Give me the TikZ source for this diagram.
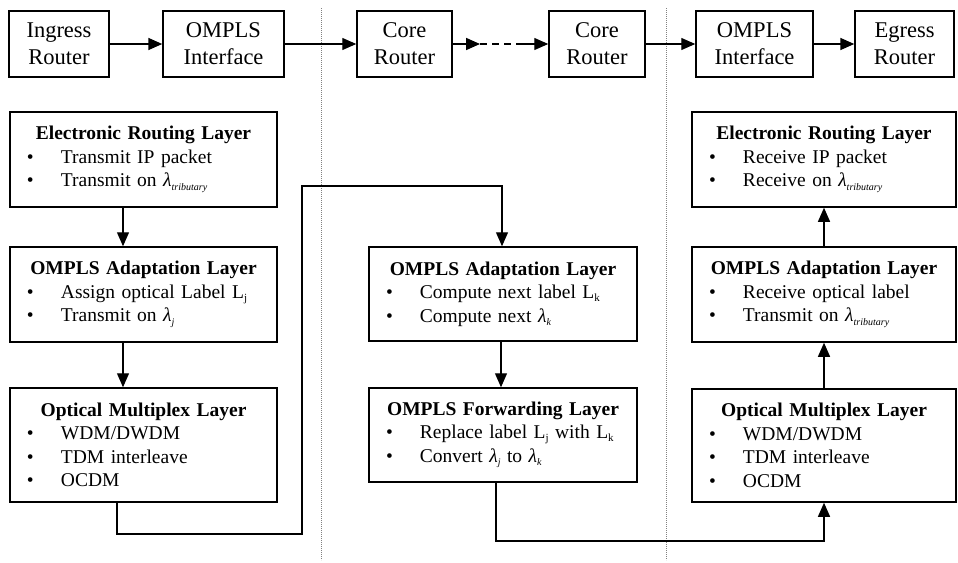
\documentclass[tikz,border=0pt]{standalone}
\usepackage{fontspec}
\setmainfont{Liberation Serif}
\usetikzlibrary{arrows.meta,calc}
\newcommand{\lsub}[1]{\raisebox{-3.5pt}{\fontsize{10}{10}\selectfont\itshape #1}}
\newcommand{\lam}[1]{{\itshape λ}\lsub{#1}}
\newcommand{\Lsub}[1]{L\raisebox{-3pt}{\fontsize{11}{11}\selectfont #1}}
\newcommand{\bitem}[1]{\makebox[\linewidth][l]{\hspace*{17pt}\makebox[34pt][l]{\textbullet}#1}}
\tikzset{
  topbox/.style={draw, line width=1.5pt, minimum height=66pt, inner sep=0pt, align=center,
    font=\fontsize{22.5}{27}\selectfont},
  layer/.style={draw, line width=1.5pt, inner xsep=0pt, inner ysep=0pt, align=center,
    font=\fontsize{19.5}{23.5}\selectfont},
  tip/.style={-{Triangle[length=14pt,width=12pt]}},
  thickarr/.style={tip, line width=1.7pt},
  thinarr/.style={tip, line width=1.2pt},
  conn/.style={line width=1.2pt},
  sep/.style={gray, line width=0.7pt, dash pattern=on 0.9pt off 1.1pt},
}
\begin{document}
\begin{tikzpicture}[x=1pt,y=-1pt]
\useasboundingbox (0,0) rectangle (958,562);
% separators
\draw[sep] (321,8) -- (321,560);
\draw[sep] (666,8) -- (666,560);
% top row
\node[topbox, minimum width=100pt] (ing) at (59,44) {Ingress\\Router};
\node[topbox, minimum width=121pt] (oif1) at (223.5,44) {OMPLS\\Interface};
\node[topbox, minimum width=95pt] (core1) at (404.5,44) {Core\\Router};
\node[topbox, minimum width=96pt] (core2) at (597,44) {Core\\Router};
\node[topbox, minimum width=117pt] (oif2) at (754.5,44) {OMPLS\\Interface};
\node[topbox, minimum width=99pt] (egr) at (904.5,44) {Egress\\Router};
\coordinate (d1) at (480,44);
\coordinate (d2) at (518,44);
\draw[thickarr] (ing) -- (oif1);
\draw[thinarr] (oif1) -- (core1);
\draw[thickarr] (core1.east) -- (d1);
\draw[line width=1.2pt, dash pattern=on 7pt off 5pt] (d1) -- (d2);
\draw[thinarr] (d2) -- (core2.west);
\draw[thinarr] (core2) -- (oif2);
\draw[thickarr] (oif2) -- (egr);
% left column
\node[layer, text width=267pt, minimum height=95pt] (lerl) at (143.5,159.5) {%
  \textbf{Electronic Routing Layer}\\
  \bitem{Transmit IP packet}\\
  \bitem{Transmit on \lam{tributary}}\\[4pt]};
\node[layer, text width=267pt, minimum height=95pt] (loal) at (143.5,294.5) {%
  \textbf{OMPLS Adaptation Layer}\\
  \bitem{Assign optical Label \Lsub{j}}\\
  \bitem{Transmit on \lam{j}}\\[4pt]};
\node[layer, text width=267pt, minimum height=114pt] (loml) at (143.5,445) {%
  \textbf{Optical Multiplex Layer}\\
  \bitem{WDM/DWDM}\\
  \bitem{TDM interleave}\\
  \bitem{OCDM}};
% center column
\node[layer, text width=268pt, minimum height=94pt] (coal) at (503,294) {%
  \textbf{OMPLS Adaptation Layer}\\
  \bitem{Compute next label \Lsub{k}}\\
  \bitem{Compute next \lam{k}}\\[4pt]};
\node[layer, text width=268pt, minimum height=94pt] (cofl) at (503,435) {%
  \textbf{OMPLS Forwarding Layer}\\
  \bitem{Replace label \Lsub{j} with \Lsub{k}}\\
  \bitem{Convert \lam{j} to \lam{k}}\\[4pt]};
% right column
\node[layer, text width=264pt, minimum height=95pt] (rerl) at (824,159.5) {%
  \textbf{Electronic Routing Layer}\\
  \bitem{Receive IP packet}\\
  \bitem{Receive on \lam{tributary}}\\[4pt]};
\node[layer, text width=264pt, minimum height=95pt] (roal) at (824,294.5) {%
  \textbf{OMPLS Adaptation Layer}\\
  \bitem{Receive optical label}\\
  \bitem{Transmit on \lam{tributary}}\\[4pt]};
\node[layer, text width=264pt, minimum height=113pt] (roml) at (824,445.5) {%
  \textbf{Optical Multiplex Layer}\\
  \bitem{WDM/DWDM}\\
  \bitem{TDM interleave}\\
  \bitem{OCDM}};
% vertical arrows
\coordinate (lx) at (123,0);
\coordinate (cx) at (501,0);
\draw[thinarr] (lerl.south -| lx) -- (loal.north -| lx);
\draw[thinarr] (loal.south -| lx) -- (loml.north -| lx);
\draw[thinarr] (coal.south -| cx) -- (cofl.north -| cx);
\draw[thinarr] (roal) -- (rerl);
\draw[thinarr] (roml) -- (roal);
% long connectors
\coordinate (a0) at (117,0);
\coordinate (a1) at (117,534);
\coordinate (a2) at (302,534);
\coordinate (a3) at (302,186);
\coordinate (a4) at (502,186);
\draw[conn, tip] (loml.south -| a0) -- (a1) -- (a2) -- (a3) -- (a4) -- (coal.north -| a4);
\coordinate (b0) at (496,0);
\coordinate (b1) at (496,541);
\coordinate (b2) at (824,541);
\draw[conn, tip] (cofl.south -| b0) -- (b1) -- (b2) -- (roml.south);
\end{tikzpicture}
\end{document}
